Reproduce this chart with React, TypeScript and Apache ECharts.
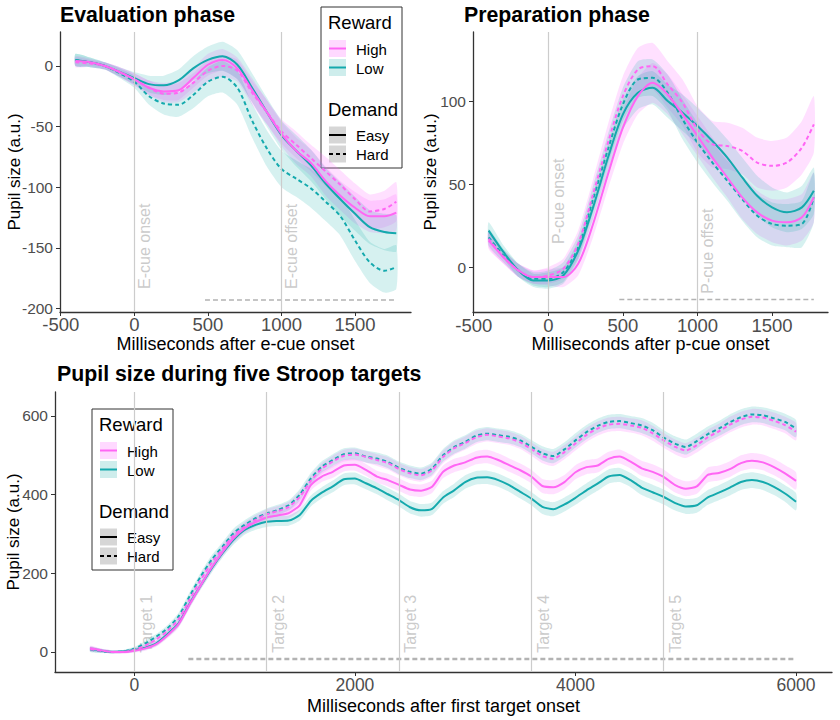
import React, { useEffect, useRef } from 'react';
import * as echarts from 'echarts';

// ---------- Evaluation phase (top-left) ----------
const evalTime = [-400, -300, -200, -100, 0, 100, 200, 300, 400, 500, 600, 700, 800, 900, 1000, 1100, 1200, 1300, 1400, 1500, 1600, 1700, 1780];
const evalHighEasy = [4, 3, 0, -5, -11, -18, -21, -20, -10, 1, 5, -2, -20, -38, -56, -70, -80, -95, -107, -117, -124, -124, -121];
const evalHighHard = [3, 2, 0, -5, -11, -18, -23, -22, -14, -4, 0, -4, -22, -38, -54, -65, -76, -87, -98, -110, -120, -118, -112];
const evalLowEasy = [5, 3, 0, -5, -10, -15, -16, -12, -2, 5, 8, 1, -18, -38, -57, -70, -82, -97, -110, -122, -133, -137, -138];
const evalLowHard = [5, 3, 0, -6, -13, -25, -31, -32, -24, -13, -9, -18, -45, -68, -85, -93, -101, -112, -124, -144, -162, -169, -166];
const evalHighEasyCI = [4, 3, 3, 4, 5, 6, 7, 8, 8, 9, 9, 9, 10, 10, 10, 11, 11, 12, 12, 13, 13, 14, 15];
const evalHighHardCI = [4, 3, 3, 4, 5, 6, 7, 8, 8, 9, 9, 9, 10, 10, 10, 11, 11, 12, 12, 13, 14, 15, 16];
const evalLowEasyCI = [5, 4, 3, 4, 5, 7, 8, 9, 10, 11, 12, 12, 12, 12, 12, 13, 13, 13, 14, 14, 14, 15, 15];
const evalLowHardCI = [5, 4, 3, 4, 5, 7, 9, 10, 11, 12, 13, 14, 14, 15, 15, 15, 16, 16, 16, 17, 17, 18, 18];
const evalEvents = [0, 1000];
const evalEventNames = ['E-cue onset', 'E-cue offset'];
const evalEventLabelY = [-184, -184];
const evalSig = { start: 480, end: 1780, level: -193 };
const evalXTicks = [-500, 0, 500, 1000, 1500];
const evalYTicks = [-200, -150, -100, -50, 0];

// ---------- Preparation phase (top-right) ----------
const prepTime = [-400, -300, -200, -100, 0, 100, 200, 300, 400, 500, 600, 700, 800, 900, 1000, 1100, 1200, 1300, 1400, 1500, 1600, 1700, 1780];
const prepHighEasy = [16, 6, -2, -6, -6, -6, 2, 26, 56, 84, 103, 111, 104, 92, 79, 66, 54, 42, 33, 28, 27, 30, 42];
const prepHighHard = [17, 6, -2, -6, -5, -1, 14, 44, 75, 103, 119, 121, 110, 99, 83, 74, 73, 70, 63, 61, 63, 72, 86];
const prepLowEasy = [22, 9, -2, -8, -8, -5, 10, 36, 66, 92, 105, 108, 100, 93, 85, 76, 66, 54, 43, 36, 33, 36, 46];
const prepLowHard = [18, 7, -2, -7, -7, -3, 12, 41, 71, 98, 113, 114, 105, 89, 75, 63, 52, 41, 31, 26, 25, 26, 42];
const prepHighEasyCI = [5, 4, 4, 4, 5, 6, 7, 8, 9, 10, 11, 12, 12, 12, 12, 12, 12, 13, 13, 13, 14, 14, 15];
const prepHighHardCI = [5, 4, 4, 4, 5, 6, 8, 9, 11, 12, 13, 14, 14, 14, 14, 14, 14, 14, 15, 15, 15, 16, 17];
const prepLowEasyCI = [5, 4, 4, 4, 5, 5, 6, 7, 8, 9, 10, 10, 10, 11, 11, 11, 11, 12, 12, 12, 12, 13, 14];
const prepLowHardCI = [5, 4, 4, 4, 5, 6, 7, 8, 9, 10, 11, 11, 11, 12, 12, 12, 12, 13, 13, 13, 13, 14, 15];
const prepEvents = [0, 1000];
const prepEventNames = ['P-cue onset', 'P-cue offset'];
const prepEventLabelY = [14, -16];
const prepSig = { start: 476, end: 1780, level: -19.5 };
const prepXTicks = [-500, 0, 500, 1000, 1500];
const prepYTicks = [0, 50, 100];

// ---------- Stroop targets (bottom) ----------
const stroopTime = [
  -400, -300, -200, -100, 0,
  100, 200, 300, 400, 500, 600, 700, 800, 900, 1000,
  1100, 1200, 1300, 1400, 1500, 1600, 1700, 1800, 1900, 2000,
  2100, 2200, 2300, 2400, 2500, 2600, 2700, 2800, 2900, 3000,
  3100, 3200, 3300, 3400, 3500, 3600, 3700, 3800, 3900, 4000,
  4100, 4200, 4300, 4400, 4500, 4600, 4700, 4800, 4900, 5000,
  5100, 5200, 5300, 5400, 5500, 5600, 5700, 5800, 5900, 6000,
];
const stroopHighEasy = [
  10, 4, 0, 0, 3,
  9, 20, 42, 70, 120, 168, 214, 254, 289, 314,
  330, 342, 347, 353, 373, 424, 446, 458, 474, 476,
  463, 446, 437, 425, 413, 410, 420, 458, 474, 482,
  494, 497, 488, 475, 462, 446, 422, 419, 432, 457,
  470, 474, 491, 497, 484, 467, 458, 445, 425, 415,
  421, 450, 455, 465, 480, 486, 482, 470, 454, 435,
];
const stroopHighHard = [
  7, 3, 0, 0, 5,
  16, 32, 53, 82, 132, 182, 226, 262, 296, 318,
  336, 350, 358, 369, 394, 435, 466, 484, 499, 502,
  496, 488, 480, 465, 454, 449, 462, 496, 518, 531,
  546, 552, 548, 543, 533, 516, 498, 491, 508, 530,
  552, 568, 578, 580, 576, 570, 556, 538, 522, 512,
  526, 546, 561, 578, 591, 598, 596, 588, 577, 560,
];
const stroopLowEasy = [
  8, 3, 0, 1, 5,
  11, 22, 45, 72, 122, 168, 212, 251, 285, 310,
  323, 331, 333, 334, 348, 384, 405, 421, 439, 441,
  429, 416, 401, 386, 368, 360, 364, 393, 411, 432,
  443, 444, 437, 424, 407, 390, 369, 363, 375, 392,
  411, 428, 446, 450, 437, 418, 406, 394, 379, 370,
  373, 393, 405, 418, 432, 437, 432, 420, 403, 382,
];
const stroopLowHard = [
  6, 2, 0, 1, 8,
  22, 39, 60, 90, 141, 191, 234, 268, 302, 323,
  340, 352, 361, 373, 400, 441, 471, 488, 503, 505,
  497, 492, 483, 468, 458, 453, 466, 500, 521, 534,
  550, 555, 551, 547, 538, 522, 505, 498, 515, 538,
  559, 575, 585, 587, 582, 576, 564, 545, 530, 521,
  536, 554, 568, 584, 597, 604, 602, 594, 585, 568,
];
const stroopCI = [
  6, 5, 4, 4, 5,
  6, 7, 8, 9, 10, 10, 11, 11, 12, 12,
  12, 13, 13, 13, 14, 14, 14, 15, 15, 15,
  15, 15, 16, 16, 16, 16, 16, 16, 17, 17,
  17, 17, 17, 17, 17, 17, 18, 18, 18, 18,
  18, 18, 18, 18, 18, 19, 19, 19, 19, 19,
  19, 19, 19, 20, 20, 20, 20, 21, 21, 22,
];
const stroopEvents = [0, 1200, 2400, 3600, 4800];
const stroopEventNames = ['Target 1', 'Target 2', 'Target 3', 'Target 4', 'Target 5'];
const stroopEventLabelY = [-2, -2, -2, -2, -2];
const stroopSig = { start: 490, end: 6000, level: -18 };
const stroopXTicks = [0, 2000, 4000, 6000];
const stroopYTicks = [0, 200, 400, 600];

const rewardLabels = ['High', 'Low'];
const demandLabels = ['Easy', 'Hard'];

// ---------- styling ----------
const FONT = "'Liberation Sans', Arial, Helvetica, sans-serif";
const MAGENTA = '#FF66F4';
const TEAL = '#14A9AD';
const PINK_FILL = 'rgba(255,102,255,0.2)';
const TEAL_FILL = 'rgba(30,175,170,0.18)';
const EVENT_LINE = '#cccccc';
const EVENT_TEXT = '#bdbdbd';
const SIG_LINE = '#b3b3b3';
const AXIS = '#333333';
const TICK_TEXT = '#4d4d4d';

function ribbon(idx: number, time: number[], vals: number[], ci: number[], fill: string) {
  return {
    type: 'custom',
    xAxisIndex: idx,
    yAxisIndex: idx,
    silent: true,
    z: 2,
    clip: true,
    data: time.map((t, i) => [t, vals[i] - ci[i], vals[i] + ci[i]]),
    encode: { x: 0, y: [1, 2] },
    renderItem: (params: any, api: any) => {
      if (params.dataIndex !== 0) return null;
      const pts: number[][] = [];
      for (let i = 0; i < time.length; i++) pts.push(api.coord([time[i], vals[i] + ci[i]]));
      for (let i = time.length - 1; i >= 0; i--) pts.push(api.coord([time[i], vals[i] - ci[i]]));
      return { type: 'polygon', shape: { points: pts, smooth: 0.2 }, style: { fill, stroke: 'none' } };
    },
  };
}

function curve(idx: number, time: number[], vals: number[], color: string, dashed: boolean, smooth: number) {
  return {
    type: 'line',
    xAxisIndex: idx,
    yAxisIndex: idx,
    data: time.map((t, i) => [t, vals[i]]),
    showSymbol: false,
    symbol: 'none',
    smooth,
    silent: true,
    z: 3,
    lineStyle: { color, width: 2, type: dashed ? [4, 3] : 'solid' },
  };
}

function sigAndEvents(idx: number, sig: { start: number; end: number; level: number }, events: number[], width: number) {
  return {
    type: 'line',
    xAxisIndex: idx,
    yAxisIndex: idx,
    data: [[sig.start, sig.level], [sig.end, sig.level]],
    showSymbol: false,
    symbol: 'none',
    silent: true,
    z: 1,
    lineStyle: { color: SIG_LINE, width, type: [5, 3] },
    markLine: {
      silent: true,
      symbol: ['none', 'none'],
      label: { show: false },
      lineStyle: { color: EVENT_LINE, width: 1.2, type: 'solid' },
      data: events.map((x) => ({ xAxis: x })),
    },
  };
}

function eventLabels(idx: number, events: number[], names: string[], ys: number[], dist: number) {
  return {
    type: 'scatter',
    xAxisIndex: idx,
    yAxisIndex: idx,
    symbolSize: 0,
    silent: true,
    z: 1,
    data: events.map((x, i) => ({ value: [x, ys[i]], label: { formatter: names[i] } })),
    label: {
      show: true,
      position: 'right',
      distance: dist,
      rotate: 90,
      color: EVENT_TEXT,
      fontSize: 16,
      fontFamily: FONT,
      align: 'left',
      verticalAlign: 'middle',
    },
  };
}

function panel(idx: number, time: number[], he: number[], hh: number[], le: number[], lh: number[],
  heCI: number[], hhCI: number[], leCI: number[], lhCI: number[], smooth: number) {
  return [
    ribbon(idx, time, he, heCI, PINK_FILL),
    ribbon(idx, time, hh, hhCI, PINK_FILL),
    ribbon(idx, time, le, leCI, TEAL_FILL),
    ribbon(idx, time, lh, lhCI, TEAL_FILL),
    curve(idx, time, le, TEAL, false, smooth),
    curve(idx, time, lh, TEAL, true, smooth),
    curve(idx, time, he, MAGENTA, false, smooth),
    curve(idx, time, hh, MAGENTA, true, smooth),
  ];
}

const plain = (v: number) => String(v);

function xAxis(idx: number, min: number, max: number, ticks: number[], name: string,
  margin: number, gap: number, labelSize: number) {
  return {
    type: 'value',
    gridIndex: idx,
    min,
    max,
    name,
    nameLocation: 'middle',
    nameGap: gap,
    nameMoveOverlap: false,
    nameTextStyle: { fontSize: 18, lineHeight: 14, color: '#000', fontFamily: FONT },
    axisLine: { show: true, onZero: false, lineStyle: { color: AXIS, width: 1.3 } },
    axisTick: { show: true, length: 4, lineStyle: { color: AXIS, width: 1 }, customValues: ticks },
    axisLabel: { customValues: ticks, formatter: plain, fontSize: labelSize, lineHeight: 14, color: TICK_TEXT, margin, fontFamily: FONT },
    splitLine: { show: false },
  };
}

function yAxis(idx: number, min: number, max: number, ticks: number[], gap: number) {
  return {
    type: 'value',
    gridIndex: idx,
    min,
    max,
    name: 'Pupil size (a.u.)',
    nameLocation: 'middle',
    nameGap: gap,
    nameMoveOverlap: false,
    nameTextStyle: { fontSize: 17, color: '#000', fontFamily: FONT },
    axisLine: { show: true, onZero: false, lineStyle: { color: AXIS, width: 1.3 } },
    axisTick: { show: true, length: 4, lineStyle: { color: AXIS, width: 1 }, customValues: ticks },
    axisLabel: { customValues: ticks, formatter: plain, fontSize: 15.5, color: TICK_TEXT, margin: 7, fontFamily: FONT },
    splitLine: { show: false },
  };
}

function legendGroup(x: number, y: number) {
  const txt = (t: string, tx: number, ty: number, size: number) => ({
    type: 'text',
    x: tx,
    y: ty,
    style: { text: t, fontSize: size, fontFamily: FONT, fill: '#000', align: 'left', verticalAlign: 'middle' },
  });
  const key = (ky: number, fill: string, stroke: string, dash: number[] | null) => [
    { type: 'rect', shape: { x: 8, y: ky, width: 17, height: 17 }, style: { fill, stroke: 'none' } },
    {
      type: 'line',
      shape: { x1: 8, y1: ky + 8.5, x2: 25, y2: ky + 8.5 },
      style: { stroke, lineWidth: 2, lineDash: dash || undefined },
    },
  ];
  return {
    type: 'group',
    x,
    y,
    children: [
      { type: 'rect', shape: { x: 0, y: 0, width: 81, height: 161 }, style: { fill: '#fff', stroke: '#333', lineWidth: 1 } },
      txt('Reward', 7, 15, 18.5),
      ...key(33, 'rgba(255,102,255,0.25)', MAGENTA, null),
      txt(rewardLabels[0], 35, 42, 15),
      ...key(52, 'rgba(30,175,170,0.22)', TEAL, null),
      txt(rewardLabels[1], 35, 61, 15),
      txt('Demand', 7, 102, 18.5),
      ...key(119.5, '#d6d6d6', '#000', null),
      txt(demandLabels[0], 35, 128, 15),
      ...key(138.5, '#d6d6d6', '#000', [4, 3]),
      txt(demandLabels[1], 35, 147, 15),
    ],
  };
}

export default function App() {
  const ref = useRef<HTMLDivElement>(null);
  useEffect(() => {
    if (!ref.current) return;
    const chart = echarts.init(ref.current, null, { renderer: 'svg' });
    const title = (t: string, x: number, y: number) => ({
      type: 'text',
      x,
      y,
      style: { text: t, fontSize: 21.3, fontWeight: 'bold', fontFamily: FONT, fill: '#000', verticalAlign: 'middle', align: 'left' },
    });
    const option: any = {
      animation: false,
      backgroundColor: '#ffffff',
      textStyle: { fontFamily: FONT },
      grid: [
        { left: 60, top: 32, width: 351, height: 280, outerBoundsMode: 'none' },
        { left: 473, top: 32, width: 355, height: 280, outerBoundsMode: 'none' },
        { left: 55, top: 392, width: 777, height: 280, outerBoundsMode: 'none' },
      ],
      xAxis: [
        xAxis(0, -505, 1880, evalXTicks, 'Milliseconds after e-cue onset', 5, 25, 18.5),
        xAxis(1, -505, 1875, prepXTicks, 'Milliseconds after p-cue onset', 6, 25, 18.5),
        xAxis(2, -719, 6326, stroopXTicks, 'Milliseconds after first target onset', 6, 27, 17.5),
      ],
      yAxis: [
        yAxis(0, -203, 28, evalYTicks, 37),
        yAxis(1, -27, 141.6, prepYTicks, 34),
        yAxis(2, -51, 661, stroopYTicks, 33),
      ],
      series: [
        sigAndEvents(0, evalSig, evalEvents, 1.5),
        eventLabels(0, evalEvents, evalEventNames, evalEventLabelY, 10),
        ...panel(0, evalTime, evalHighEasy, evalHighHard, evalLowEasy, evalLowHard,
          evalHighEasyCI, evalHighHardCI, evalLowEasyCI, evalLowHardCI, 0.3),
        sigAndEvents(1, prepSig, prepEvents, 1.5),
        eventLabels(1, prepEvents, prepEventNames, prepEventLabelY, 10),
        ...panel(1, prepTime, prepHighEasy, prepHighHard, prepLowEasy, prepLowHard,
          prepHighEasyCI, prepHighHardCI, prepLowEasyCI, prepLowHardCI, 0.3),
        sigAndEvents(2, stroopSig, stroopEvents, 2.5),
        eventLabels(2, stroopEvents, stroopEventNames, stroopEventLabelY, 12),
        ...panel(2, stroopTime, stroopHighEasy, stroopHighHard, stroopLowEasy, stroopLowHard,
          stroopCI, stroopCI, stroopCI, stroopCI, 0.2),
      ],
      graphic: [
        title('Evaluation phase', 60, 15),
        title('Preparation phase', 464, 15),
        title('Pupil size during five Stroop targets', 57, 374),
        legendGroup(321, 7),
        legendGroup(92, 409),
      ],
    };
    chart.setOption(option);
    return () => chart.dispose();
  }, []);
  return <div ref={ref} style={{ position: 'absolute', left: 0, top: 0, width: 840, height: 720 }} />;
}
